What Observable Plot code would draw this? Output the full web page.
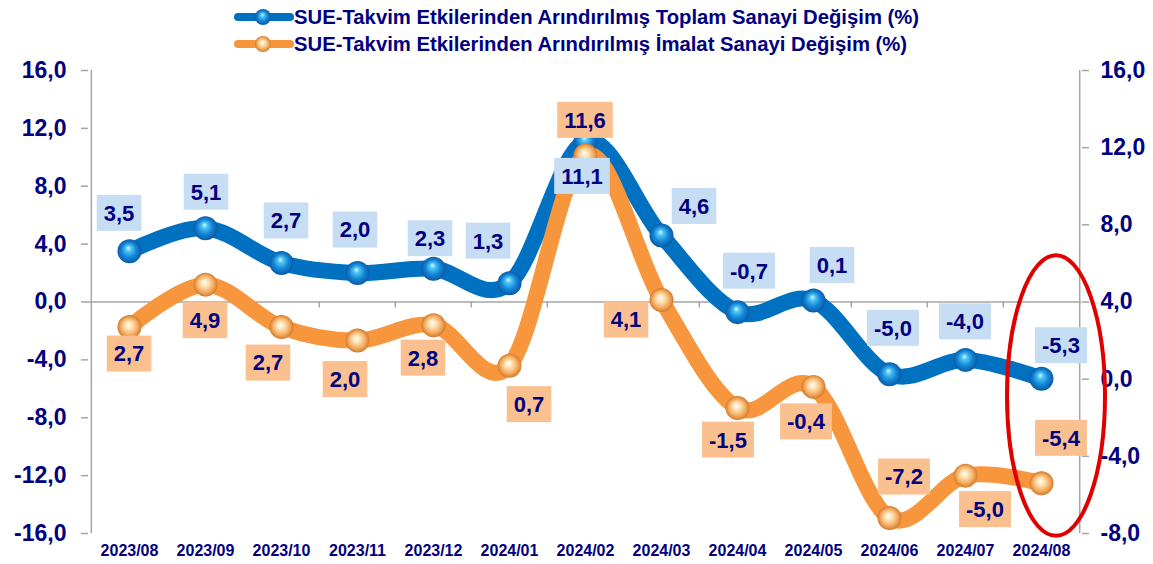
<!DOCTYPE html>
<html>
<head>
<meta charset="utf-8">
<script src="https://cdn.jsdelivr.net/npm/d3@7"></script>
<script src="https://cdn.jsdelivr.net/npm/@observablehq/plot@0.6"></script>
<style>
  body { margin: 0; background: #fff; font-family: "Liberation Sans", Arial, sans-serif; }
  #legend { position: relative; height: 60px; width: 1153px; }
  .item { position: absolute; left: 234px; height: 24px; display: flex; align-items: center;
          font-weight: bold; font-size: 20.3px; color: #000080; white-space: nowrap; }
</style>
</head>
<body>
<div id="legend"></div>
<div id="chart"></div>
<script>
// ---------- data ----------
const categories = ["2023/08","2023/09","2023/10","2023/11","2023/12","2024/01","2024/02","2024/03","2024/04","2024/05","2024/06","2024/07","2024/08"];
const toplam = [3.5, 5.1, 2.7, 2.0, 2.3, 1.3, 11.1, 4.6, -0.7, 0.1, -5.0, -4.0, -5.3];   // left axis
const imalat = [2.7, 4.9, 2.7, 2.0, 2.8, 0.7, 11.6, 4.1, -1.5, -0.4, -7.2, -5.0, -5.4];  // right axis
const leftTicks = [-16, -12, -8, -4, 0, 4, 8, 12, 16];
const rightTicks = [-8, -4, 0, 4, 8, 12, 16];
const seriesNames = [
  "SUE-Takvim Etkilerinden Arındırılmış Toplam Sanayi Değişim (%)",
  "SUE-Takvim Etkilerinden Arındırılmış İmalat Sanayi Değişim (%)"
];

// ---------- label layout (pixel nudges from each point) ----------
const toplamLabelOffset = [[-10,-38],[1,-36],[5,-42],[-2,-43],[-3,-30],[-21,-42],[-3,35],[33,-29],[12,-41],[19,-35],[4,-46],[0,-38],[20,-33]];
const imalatLabelOffset = [[0,27],[0,36],[-13,36],[-12,39],[-10,33],[20,39],[0,-35],[-35,20],[-9,32],[-7,35],[15,-41],[20,34],[20,-45]];

// ---------- style ----------
const navy = "#000080";
const blue = "#0070C0";
const orange = "#F7963C";
const blueBox = "#C6DDF3";
const orangeBox = "#FBC08F";
const gray = "#A6A6A6";

const W = 1153, H = 504, mT = 10, mB = 31, mL = 88, mR = 72;
const step = (W - mL - mR) / categories.length;

const fmt = v => v.toFixed(1).replace(".", ",");
const toLeft = r => (r + 8) * 4 / 3 - 16;      // right-axis value -> left-axis value
const fromLeft = l => (l + 16) * 3 / 4 - 8;

const rows = categories.map((c, i) => ({c, t: toplam[i], m: imalat[i], mL: toLeft(imalat[i])}));

// legend
const legend = document.getElementById("legend");
[[blue, "url(#gBlue)"], [orange, "url(#gOrange)"]].forEach(([col, ball], i) => {
  const div = document.createElement("div");
  div.className = "item";
  div.style.top = (5 + i * 27) + "px";
  div.innerHTML = `<svg width="60" height="24"><line x1="4" x2="56" y1="12" y2="12" stroke="${col}" stroke-width="8" stroke-linecap="round"/><circle cx="29" cy="12" r="8" fill="${ball}"/></svg><span>${seriesNames[i]}</span>`;
  legend.appendChild(div);
});

const canvas = document.createElement("canvas");
const ctx = canvas.getContext("2d");
ctx.font = "bold 22px 'Liberation Sans'";

function labelMark(key, yKey, offsets, fill) {
  return (index, scales) => {
    const g = d3.create("svg:g");
    rows.forEach((r, i) => {
      const px = scales.x(r.c), py = scales.y(r[yKey]);
      const cx = px + offsets[i][0], cy = py + offsets[i][1];
      const s = fmt(r[key]);
      const w = ctx.measureText(s).width + 14, h = 36;
      g.append("rect").attr("x", cx - w / 2).attr("y", cy - h / 2).attr("width", w).attr("height", h).attr("fill", fill);
      g.append("text").attr("x", cx).attr("y", cy).attr("dy", "0.36em").attr("text-anchor", "middle")
        .attr("font-size", 22).attr("font-weight", "bold").attr("fill", navy).text(s);
    });
    return g.node();
  };
}

function ellipseMark(index, scales) {
  const last = rows[rows.length - 1];
  const px = scales.x(last.c);
  const yTop = scales.y(last.t) - 123;
  const yBot = scales.y(last.mL) + 53;
  const el = document.createElementNS("http://www.w3.org/2000/svg", "ellipse");
  el.setAttribute("cx", px + 15);
  el.setAttribute("cy", (yTop + yBot) / 2);
  el.setAttribute("rx", 49);
  el.setAttribute("ry", (yBot - yTop) / 2);
  el.setAttribute("fill", "none");
  el.setAttribute("stroke", "#E00000");
  el.setAttribute("stroke-width", 4);
  return el;
}

const pxPerUnit = (H - mT - mB) / 32;

const chart = Plot.plot({
  width: W, height: H,
  marginTop: mT, marginBottom: mB, marginLeft: mL, marginRight: mR,
  style: {fontFamily: "'Liberation Sans', Arial, sans-serif", fontSize: "23px", fontWeight: "bold", color: navy, background: "#fff", overflow: "visible"},
  x: {type: "point", domain: categories, padding: 0.5, axis: null, label: null},
  y: {domain: [-16, 16], axis: null, label: null},
  marks: [
    // axis lines
    Plot.ruleX([categories[0]], {x: d => d, dx: -step / 2, y1: -16, y2: 16, stroke: gray, strokeWidth: 1.5}),
    Plot.ruleX([categories[categories.length - 1]], {x: d => d, dx: step / 2, y1: -16, y2: 16, stroke: gray, strokeWidth: 1.5}),
    Plot.ruleY([0], {stroke: gray, strokeWidth: 1.5}),
    Plot.ruleX(categories.slice(1), {x: d => d, dx: -step / 2, y1: 0, y2: -6 / pxPerUnit, stroke: gray, strokeWidth: 1.5}),
    Plot.axisY(leftTicks, {anchor: "left", label: null, tickSize: 7, tickPadding: 15, stroke: gray, strokeWidth: 1.5, fill: navy, fontSize: 23, tickFormat: fmt}),
    Plot.axisY(rightTicks.map(toLeft), {anchor: "right", label: null, tickSize: 7, tickPadding: 12, stroke: gray, strokeWidth: 1.5, fill: navy, fontSize: 23, tickFormat: d => fmt(fromLeft(d))}),
    Plot.axisX(categories, {anchor: "bottom", label: null, tickSize: 0, tickPadding: 11, fill: navy, fontSize: 16}),
    // lines
    Plot.line(rows, {x: "c", y: "t", stroke: blue, strokeWidth: 16, curve: "cardinal", strokeLinecap: "round"}),
    Plot.line(rows, {x: "c", y: "mL", stroke: orange, strokeWidth: 16, curve: "cardinal", strokeLinecap: "round"}),
    Plot.dot(rows, {x: "c", y: "t", r: 12, fill: "url(#gBlue)"}),
    Plot.dot(rows, {x: "c", y: "mL", r: 12, fill: "url(#gOrange)"}),
    labelMark("t", "t", toplamLabelOffset, blueBox),
    labelMark("m", "mL", imalatLabelOffset, orangeBox),
    ellipseMark
  ]
});

const defs = d3.create("svg:defs");
const gb = defs.append("radialGradient").attr("id", "gBlue").attr("cx", "50%").attr("cy", "50%").attr("r", "50%").attr("fx", "45%").attr("fy", "35%");
[[0, "#d0f6ff"], [0.25, "#4cc3f5"], [0.62, "#1386d6"], [1, "#0a5aa8"]].forEach(([o, c]) => gb.append("stop").attr("offset", o).attr("stop-color", c));
const go = defs.append("radialGradient").attr("id", "gOrange").attr("cx", "50%").attr("cy", "50%").attr("r", "50%").attr("fx", "45%").attr("fy", "40%");
[[0, "#fffdf2"], [0.3, "#fde4b8"], [0.7, "#f5ac60"], [1, "#d47a2c"]].forEach(([o, c]) => go.append("stop").attr("offset", o).attr("stop-color", c));
chart.insertBefore(defs.node(), chart.firstChild);

document.getElementById("chart").appendChild(chart);
</script>
</body>
</html>
